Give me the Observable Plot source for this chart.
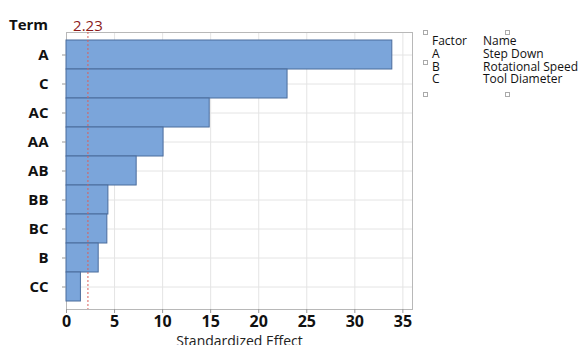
<!DOCTYPE html>
<html>
<head>
<meta charset="utf-8">
<script src="https://cdn.jsdelivr.net/npm/d3@7"></script>
<script src="https://cdn.jsdelivr.net/npm/@observablehq/plot@0.6"></script>
<style>
  html, body { margin: 0; padding: 0; background: #fff; }
  #wrap { position: relative; width: 587px; height: 345px; overflow: hidden; font-family: "Open Sans", "Noto Sans", sans-serif; }
  #legend { position: absolute; left: 432px; top: 35px; font-size: 12px; line-height: 12.8px; color: #111; }
  #legend .row { display: flex; }
  #legend .f { width: 51px; }
  .handle { position: absolute; width: 3px; height: 3px; border: 1px solid #aaa; background: #fff; }
</style>
</head>
<body>
<div id="wrap"></div>
<script>
// Pareto chart of standardized effects (alpha = 0.05)
const terms = ["A", "C", "AC", "AA", "AB", "BB", "BC", "B", "CC"];
const effects = [33.9, 23.0, 14.9, 10.1, 7.3, 4.36, 4.25, 3.35, 1.5];
const criticalValue = 2.23;
const xTicks = [0, 5, 10, 15, 20, 25, 30, 35];
const factors = ["A", "B", "C"];
const factorNames = ["Step Down", "Rotational Speed", "Tool Diameter"];

const rows = terms.map((t, i) => ({term: t, effect: effects[i]}));

const font = "'Open Sans', 'Noto Sans', sans-serif";

const chart = Plot.plot({
  width: 587,
  height: 345,
  marginLeft: 66,
  marginRight: 175,
  marginTop: 32,
  marginBottom: 36,
  style: {fontFamily: font, background: "#fff"},
  x: {domain: [0, 36], ticks: xTicks},
  y: {domain: terms, padding: 0, insetTop: 7, insetBottom: 7},
  marks: [
    Plot.gridX(xTicks, {stroke: "#e4e4e4", strokeOpacity: 1}),
    Plot.gridY(terms, {stroke: "#e4e4e4", strokeOpacity: 1}),
    Plot.frame({stroke: "#b8b8b8"}),
    Plot.barX(rows, {x: "effect", y: "term", fill: "#7ba5da", stroke: "#4b6c9c", strokeWidth: 1}),
    Plot.ruleX([criticalValue], {stroke: "#d9605a", strokeDasharray: "2,2", strokeWidth: 1}),
    Plot.text([criticalValue], {x: d => d, frameAnchor: "top", dy: -12, text: d => d.toFixed(2), fill: "#8b1a1a", fontSize: 15, textAnchor: "middle"}),
    Plot.axisY({tickSize: 4, tickPadding: 14, stroke: "#999", fontSize: 15, fontWeight: "bold", fill: "#111", label: null}),
    Plot.axisX({ticks: xTicks, tickSize: 4, tickPadding: 2, stroke: "#999", fontSize: 16, fontWeight: "bold", fill: "#111", label: null}),
    Plot.text(["Term"], {frameAnchor: "top-left", dx: -38, dy: -13, text: d => d, fontSize: 15, fontWeight: "bold", fill: "#111", textAnchor: "middle"}),
    Plot.text(["Standardized Effect"], {frameAnchor: "bottom", dy: 27, lineAnchor: "top", text: d => d, fontSize: 14, fill: "#222"})
  ]
});

const wrap = document.getElementById("wrap");
wrap.appendChild(chart);

// Factor legend
const legend = document.createElement("div");
legend.id = "legend";
const addRow = (a, b) => {
  const r = document.createElement("div");
  r.className = "row";
  r.innerHTML = `<span class="f"></span><span></span>`;
  r.children[0].textContent = a;
  r.children[1].textContent = b;
  legend.appendChild(r);
};
addRow("Factor", "Name");
factors.forEach((f, i) => addRow(f, factorNames[i]));
wrap.appendChild(legend);

// Selection handles around the legend box
[[423, 30], [505, 30], [423, 60], [423, 92], [505, 92]].forEach(([l, t]) => {
  const h = document.createElement("div");
  h.className = "handle";
  h.style.left = l + "px";
  h.style.top = t + "px";
  wrap.appendChild(h);
});
</script>
</body>
</html>
